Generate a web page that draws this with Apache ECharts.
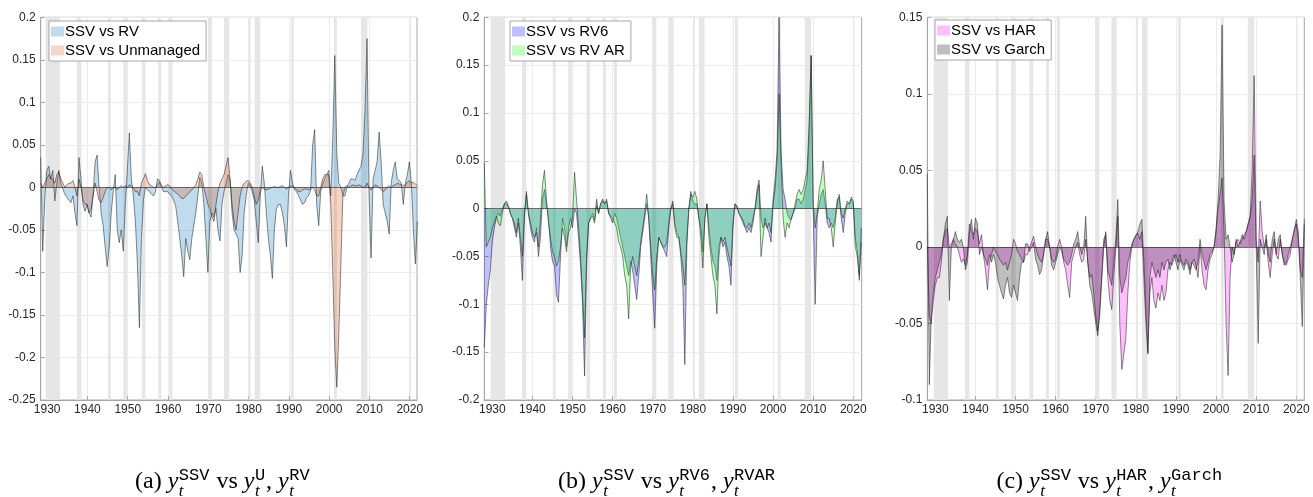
<!doctype html>
<html lang="en">
<head>
<meta charset="utf-8">
<title>SSV comparisons</title>
<script src="https://cdn.jsdelivr.net/npm/echarts@6/dist/echarts.min.js"></script>
<style>
  html, body { margin: 0; padding: 0; background: #fff; }
  #chart { width: 1313px; height: 497px; }
</style>
</head>
<body>
<div id="chart"></div>
<script>
// half-year samples; panel (a) starts a bit later than (b) and (c)
const startA = 1928.4;
const startBC = 1928.0;
const step = 0.5;

// (a) SSV vs RV / Unmanaged, from 1928.4
const ssvRV = [
  0.035, -0.075, -0.015,
  0.02, 0.025, 0.01, 0.02, -0.016, 0.005, 0.02, 0.005, -0.002, -0.008, -0.012, -0.015, -0.018, -0.01, -0.03, -0.045, 0.035, 0.01, -0.02, -0.028,
  -0.02, -0.03, -0.035, -0.01, 0.03, 0.038, 0.0, -0.03, -0.045, -0.07, -0.093, -0.07, -0.03, -0.005, 0.015, -0.05, -0.065, -0.05, -0.075, -0.02,
  0.02, 0.064, 0.01, -0.01, -0.04, -0.09, -0.165, -0.06, -0.015, 0.0, -0.003, -0.005, -0.008, -0.01, -0.005, 0.01, 0.008, 0.0, -0.005, -0.005,
  -0.005, -0.008, -0.01, -0.015, -0.022, -0.04, -0.06, -0.08, -0.105, -0.06, -0.075, -0.085, -0.06, -0.045, -0.03, -0.01, 0.012, 0.005, -0.02, -0.06,
  -0.1, -0.04, -0.03, -0.035, -0.025, -0.05, -0.063, -0.02, -0.005, 0.005, 0.015, 0.01, -0.03, -0.05, -0.055, -0.06, -0.1, -0.08, -0.03, -0.01,
  0.005, 0.003, -0.005, -0.015, -0.04, -0.065, -0.01, 0.025, 0.005, -0.03, -0.06, -0.08, -0.107, -0.05, -0.025, -0.02, -0.02, -0.03, -0.045, -0.07,
  -0.01, 0.02, 0.005, -0.003, -0.005, -0.01, -0.015, -0.02, -0.018, -0.012, -0.01, -0.003, 0.05, 0.068, -0.02, -0.045, -0.005, 0.005, 0.01, 0.015,
  0.02, -0.01, 0.06, 0.155, 0.04, 0.005, 0.0, -0.01, -0.01, 0.0, 0.005, 0.01, 0.01, 0.008, 0.015, 0.02, 0.025, 0.04, 0.09, 0.175,
  -0.01, -0.083, 0.01, 0.02, 0.03, 0.065, 0.03, -0.02, -0.03, -0.04, -0.055, 0.005, 0.02, 0.03, 0.01, 0.008, 0.005, -0.02, 0.005, 0.015,
  0.03, 0.005, -0.05, -0.09, -0.04
];
const ssvUnmanaged = [
  0.005, 0.0, 0.005,
  0.01, 0.015, 0.01, 0.01, 0.005, 0.015, 0.018, 0.01, 0.005, 0.0, 0.003, 0.005, 0.005, 0.008, 0.0, -0.01, 0.01, 0.0, -0.015, -0.02,
  -0.02, -0.03, -0.025, -0.01, 0.005, -0.005, -0.015, -0.018, -0.012, -0.005, 0.0, 0.0, -0.003, 0.0, 0.0, -0.003, 0.0, 0.002, 0.0, 0.002,
  0.0, 0.003, 0.002, 0.0, -0.005, -0.005, -0.01, 0.005, 0.01, 0.016, 0.008, 0.003, 0.002, 0.0, 0.0, 0.003, 0.006, 0.002, 0.0, 0.002,
  0.003, 0.002, -0.002, -0.004, -0.006, -0.008, -0.01, -0.013, -0.013, -0.01, -0.008, -0.005, -0.003, 0.0, 0.003, 0.01, 0.018, 0.015, 0.0, -0.01,
  -0.02, -0.025, -0.035, -0.04, -0.02, -0.005, 0.005, 0.01, 0.015, 0.025, 0.035, 0.01, -0.02, -0.04, -0.05, -0.03, -0.01, 0.0, 0.005, 0.007,
  0.008, 0.005, 0.0, -0.01, -0.02, -0.015, -0.005, 0.0, -0.002, -0.003, -0.002, -0.001, 0.0, 0.001, 0.0, 0.0, 0.001, 0.002, 0.0, -0.002,
  0.0, 0.002, 0.001, 0.0, -0.003, -0.005, -0.005, -0.003, -0.002, -0.002, -0.003, -0.002, 0.0, -0.003, -0.01, -0.01, 0.0, 0.01, 0.015, 0.015,
  0.015, -0.02, -0.1, -0.19, -0.235, -0.17, -0.09, -0.01, 0.0, 0.002, 0.0, 0.002, 0.003, 0.002, 0.002, 0.003, 0.002, 0.0, 0.0, 0.005,
  0.0, -0.003, 0.0, 0.003, 0.002, 0.0, -0.003, -0.005, -0.003, 0.0, 0.002, 0.0, 0.002, 0.003, 0.005, 0.004, 0.003, 0.002, 0.003, 0.006,
  0.008, 0.005, 0.006, 0.004, 0.002
];

// (b) SSV vs RV6 / RV AR, from 1928.0
const ssvRV6 = [
  -0.145, -0.1, -0.08, -0.065,
  -0.035, -0.02, -0.01, -0.005, -0.008, 0.0, 0.005, 0.008, 0.003, -0.005, -0.01, -0.02, -0.03, -0.015, -0.04, -0.075, -0.01, 0.018, -0.005, -0.02,
  -0.03, -0.035, -0.02, -0.05, -0.03, 0.01, 0.02, 0.005, -0.01, -0.04, -0.055, -0.06, -0.09, -0.098, -0.05, -0.01, -0.02, -0.04, -0.02, -0.01,
  -0.02, 0.0, -0.005, -0.03, -0.06, -0.1, -0.175, -0.06, -0.015, -0.01, -0.005, -0.012, 0.01, -0.005, 0.005, 0.01, 0.005, 0.008, -0.005, -0.01,
  -0.015, -0.005, -0.01, -0.02, -0.03, -0.04, -0.05, -0.06, -0.07, -0.055, -0.065, -0.08, -0.095, -0.07, -0.04, -0.025, -0.01, 0.005, -0.01, -0.05,
  -0.09, -0.125, -0.06, -0.03, -0.035, -0.04, -0.045, -0.05, -0.02, 0.0, 0.008, -0.015, -0.025, -0.03, -0.05, -0.08, -0.163, -0.04, 0.0, 0.018,
  0.008, 0.005, 0.005, -0.01, -0.02, -0.045, -0.01, 0.005, -0.02, -0.04, -0.055, -0.06, -0.075, -0.04, -0.03, -0.04, -0.035, -0.05, -0.06, -0.08,
  -0.02, 0.005, 0.002, -0.005, -0.01, -0.015, -0.02, -0.025, -0.02, -0.025, -0.015, 0.0, 0.02, 0.03, -0.01, -0.02, -0.015, -0.02, -0.025, -0.035,
  0.01, 0.03, 0.06, 0.2, 0.06, 0.02, 0.01, -0.005, -0.01, -0.012, -0.005, 0.0, 0.01, 0.01, 0.005, 0.01, 0.02, 0.03, 0.08, 0.16,
  0.0, -0.1, -0.01, 0.005, 0.015, 0.02, 0.005, -0.015, -0.02, -0.015, -0.02, -0.01, 0.01, 0.012, -0.01, -0.025, -0.005, 0.005, 0.005, 0.01,
  0.005, -0.03, -0.045, -0.075, -0.035
];
const ssvRVAR = [
  0.048, -0.04, -0.035, -0.03,
  -0.02, -0.015, -0.008, -0.015, -0.018, -0.005, 0.005, 0.005, 0.002, -0.005, -0.01, -0.015, -0.025, -0.01, -0.03, -0.05, -0.005, 0.015, -0.005, -0.015,
  -0.025, -0.03, -0.025, -0.04, -0.01, 0.025, 0.04, 0.01, -0.015, -0.03, -0.045, -0.05, -0.06, -0.055, -0.04, -0.02, -0.03, -0.045, -0.025, -0.02,
  -0.01, 0.038, 0.01, -0.02, -0.05, -0.09, -0.135, -0.05, -0.015, -0.01, -0.008, -0.015, 0.003, -0.005, 0.005, 0.008, 0.005, 0.01, -0.005, -0.008,
  -0.01, -0.015, -0.02, -0.035, -0.04, -0.05, -0.07, -0.08, -0.115, -0.06, -0.05, -0.06, -0.07, -0.055, -0.035, -0.02, -0.005, 0.015, -0.01, -0.04,
  -0.07, -0.085, -0.05, -0.03, -0.035, -0.04, -0.04, -0.035, -0.015, 0.0, 0.005, -0.02, -0.03, -0.03, -0.045, -0.06, -0.08, -0.03, 0.0, 0.015,
  0.012, 0.018, 0.01, -0.01, -0.03, -0.062, -0.01, 0.005, -0.03, -0.05, -0.07, -0.08, -0.11, -0.05, -0.03, -0.035, -0.03, -0.04, -0.05, -0.06,
  -0.015, 0.005, 0.003, -0.005, -0.008, -0.012, -0.018, -0.02, -0.015, -0.02, -0.01, 0.0, 0.015, 0.025, -0.05, -0.03, -0.01, -0.02, -0.015, -0.025,
  0.005, 0.02, 0.05, 0.12, 0.05, -0.01, -0.03, -0.015, -0.02, -0.01, -0.005, 0.005, 0.015, 0.02, 0.015, 0.02, 0.03, 0.04, 0.09, 0.16,
  0.005, -0.02, -0.005, 0.02, 0.03, 0.05, 0.02, -0.01, -0.01, -0.02, -0.04, -0.015, 0.005, 0.015, -0.005, -0.01, 0.0, 0.008, 0.005, 0.012,
  0.008, -0.04, -0.05, -0.07, -0.02
];

// (c) SSV vs HAR / Garch, from 1928.0
const ssvHAR = [
  0.0, -0.045, -0.05, -0.035,
  -0.025, -0.02, -0.02, -0.01, 0.005, 0.01, 0.012, 0.0, 0.002, 0.005, 0.002, 0.0, -0.005, -0.01, -0.008, -0.012, -0.005, 0.015, 0.01, 0.008,
  0.012, 0.01, 0.002, 0.008, -0.005, -0.015, -0.028, -0.01, -0.005, 0.0, -0.003, -0.005, -0.008, -0.01, -0.012, -0.01, -0.015, -0.01, -0.005, 0.005,
  0.002, -0.003, -0.005, -0.008, -0.01, -0.005, -0.005, 0.0, 0.003, 0.007, 0.0, -0.005, -0.008, -0.01, -0.005, 0.005, 0.005, 0.0, -0.008, -0.01,
  -0.008, 0.0, 0.005, 0.0, -0.01, -0.015, -0.025, -0.033, -0.01, -0.005, 0.0, 0.003, -0.005, -0.01, -0.008, 0.005, -0.01, -0.02, -0.018, -0.03,
  -0.045, -0.055, -0.045, -0.02, 0.0, 0.01, -0.02, -0.035, -0.041, -0.02, 0.0, 0.02, -0.05, -0.08, -0.07, -0.06, -0.03, -0.01, 0.0, 0.005,
  0.008, 0.009, 0.005, 0.01, -0.02, -0.05, -0.07, -0.03, -0.02, -0.035, -0.04, -0.03, -0.035, -0.025, -0.035, -0.03, -0.015, -0.01, -0.012, -0.008,
  -0.005, -0.01, -0.005, -0.01, -0.012, -0.008, -0.01, -0.015, -0.01, -0.008, -0.012, -0.02, 0.0, -0.015, -0.025, -0.028, -0.015, -0.008, -0.005, 0.0,
  0.01, 0.025, 0.035, 0.045, 0.01, -0.05, -0.084, -0.02, 0.0, -0.005, 0.003, 0.005, 0.002, 0.005, 0.008, 0.01, 0.015, 0.02, 0.05, 0.112,
  0.005, -0.01, 0.03, 0.01, 0.0, 0.005, -0.01, -0.02, -0.005, 0.005, -0.005, -0.008, 0.005, -0.005, -0.01, -0.012, -0.008, -0.005, 0.005, 0.012,
  0.015, 0.005, -0.015, -0.02, 0.018
];
const ssvGarch = [
  0.048, -0.09, -0.045, -0.03,
  -0.02, -0.015, -0.01, -0.005, 0.005, 0.015, 0.02, -0.035, 0.0, 0.005, 0.01, 0.005, 0.003, 0.005, 0.0, -0.015, -0.01, 0.01, 0.018, 0.005,
  0.019, 0.015, -0.005, 0.0, -0.005, -0.008, -0.012, -0.005, -0.01, -0.005, -0.01, -0.02, -0.025, -0.03, -0.034, -0.025, -0.02, -0.03, -0.033, -0.025,
  -0.03, -0.035, -0.02, -0.01, -0.01, 0.002, 0.002, -0.003, 0.0, 0.003, -0.008, -0.012, -0.018, -0.015, -0.005, 0.005, 0.01, 0.0, -0.012, -0.015,
  -0.01, -0.005, 0.0, -0.003, -0.008, -0.01, -0.012, -0.01, -0.005, 0.002, 0.005, 0.01, 0.0, -0.005, 0.0, 0.02, -0.01, -0.025, -0.03, -0.04,
  -0.05, -0.058, -0.04, -0.02, 0.005, 0.008, -0.015, -0.02, -0.025, -0.01, 0.005, 0.031, -0.02, -0.03, -0.025, -0.02, -0.01, -0.005, 0.002, 0.005,
  0.007, 0.01, 0.015, 0.018, -0.01, -0.04, -0.069, -0.02, -0.01, -0.015, -0.02, -0.015, -0.02, -0.01, -0.015, -0.01, -0.008, -0.015, -0.01, -0.005,
  -0.01, -0.015, -0.008, -0.012, -0.015, -0.01, -0.012, -0.018, -0.01, -0.012, -0.015, -0.01, 0.005, -0.005, -0.01, -0.015, -0.01, -0.005, -0.003, 0.0,
  0.012, 0.03, 0.06, 0.145, 0.03, 0.005, 0.008, 0.0, -0.01, -0.005, 0.005, 0.0, 0.003, 0.008, 0.005, 0.01, 0.015, 0.02, 0.03, 0.06,
  0.0, -0.063, 0.005, 0.0, -0.005, 0.008, -0.005, -0.01, 0.005, 0.01, -0.005, 0.005, 0.008, -0.005, -0.012, -0.01, -0.005, 0.0, 0.005, 0.01,
  0.018, 0.01, -0.02, -0.052, 0.015
];

const decadeTicks = [1930, 1940, 1950, 1960, 1970, 1980, 1990, 2000, 2010, 2020];
// NBER recessions, shaded
const recessions = [
  [1929.6, 1933.2], [1937.4, 1938.5], [1945.1, 1945.8], [1948.9, 1949.8], [1953.5, 1954.4],
  [1957.6, 1958.3], [1960.3, 1961.1], [1969.9, 1970.9], [1973.9, 1975.2], [1980.0, 1980.5],
  [1981.5, 1982.9], [1990.5, 1991.2], [2001.2, 2001.9], [2007.9, 2009.5], [2020.1, 2020.3]
];

const TEXT = '#262626';
const AXIS = '#a6a6a6';
const GRID = '#ececec';
const EDGE = 'rgba(30,30,30,0.75)';
const SANS = '"Liberation Sans", Arial, sans-serif';

const panels = [
  {
    left: 40.7, width: 376.3, xMin: 1928.4, xMax: 2021.8, yMin: -0.25, yMax: 0.2, start: startA,
    legendPos: { left: 49, top: 21 },
    series: [
      { name: 'SSV vs RV', values: ssvRV, rgb: '0,114,189', swatch: '#bfdcef' },
      { name: 'SSV vs Unmanaged', values: ssvUnmanaged, rgb: '217,83,25', swatch: '#f6d4c6' }
    ],
    caption: ['(a) ', { sup: 'SSV' }, ' vs ', { sup: 'U' }, ', ', { sup: 'RV' }]
  },
  {
    left: 484.3, width: 377.4, xMin: 1928.0, xMax: 2022.1, yMin: -0.2, yMax: 0.2, start: startBC,
    legendPos: { left: 510, top: 21 },
    series: [
      { name: 'SSV vs RV6', values: ssvRV6, rgb: '0,0,255', swatch: '#bfbfff' },
      { name: 'SSV vs RV AR', values: ssvRVAR, rgb: '0,255,0', swatch: '#bfffbf' }
    ],
    caption: ['(b) ', { sup: 'SSV' }, ' vs ', { sup: 'RV6' }, ', ', { sup: 'RVAR' }]
  },
  {
    left: 927.3, width: 377, xMin: 1928.0, xMax: 2022.0, yMin: -0.1, yMax: 0.15, start: startBC,
    legendPos: { left: 935, top: 20 },
    series: [
      { name: 'SSV vs HAR', values: ssvHAR, rgb: '255,0,255', swatch: '#ffbfff' },
      { name: 'SSV vs Garch', values: ssvGarch, rgb: '0,0,0', swatch: '#bfbfbf' }
    ],
    caption: ['(c) ', { sup: 'SSV' }, ' vs ', { sup: 'HAR' }, ', ', { sup: 'Garch' }]
  }
];

function stamp(start, values) {
  return values.map((v, i) => [+(start + i * step).toFixed(2), v]);
}

// caption text: y_t with typewriter superscripts
const measureCtx = document.createElement('canvas').getContext('2d');
function textW(s, font) { measureCtx.font = font; return measureCtx.measureText(s).width; }
const CAP = {
  roman: '24px "Liberation Serif", serif',
  italic: 'italic 24px "Liberation Serif", serif',
  script: 'italic 17px "Liberation Serif", serif',
  mono: '17px "Liberation Mono", monospace'
};
function captionElements(tokens, cx, baseY) {
  const parts = [];
  let x = 0;
  tokens.forEach(tok => {
    if (typeof tok === 'string') {
      parts.push({ text: tok, font: CAP.roman, x: x, y: baseY });
      x += textW(tok, CAP.roman);
    } else {
      parts.push({ text: 'y', font: CAP.italic, x: x, y: baseY });
      x += textW('y', CAP.italic) + 0.5;
      parts.push({ text: 't', font: CAP.script, x: x, y: baseY + 6 });
      parts.push({ text: tok.sup, font: CAP.mono, x: x, y: baseY - 10 });
      x += Math.max(textW('t', CAP.script), textW(tok.sup, CAP.mono)) + 1;
    }
  });
  const x0 = cx - x / 2;
  return parts.map(p => ({
    type: 'text', silent: true,
    x: x0 + p.x, y: p.y,
    style: { text: p.text, font: p.font, fill: '#000', textVerticalAlign: 'bottom' }
  }));
}

const grids = [], xAxes = [], yAxes = [], series = [], legends = [], graphics = [];
panels.forEach((p, k) => {
  grids.push({ left: p.left, top: 17.3, width: p.width, height: 382.7, show: true,
    borderColor: AXIS, borderWidth: 1, backgroundColor: 'transparent', outerBoundsMode: 'none' });
  xAxes.push({
    type: 'value', gridIndex: k, min: p.xMin, max: p.xMax,
    axisLine: { show: true, onZero: false, lineStyle: { color: AXIS } },
    axisTick: { show: true, inside: true, length: 4, customValues: decadeTicks, lineStyle: { color: AXIS } },
    axisLabel: { customValues: decadeTicks, color: TEXT, fontSize: 12, fontFamily: SANS, margin: 4,
      formatter: v => String(v) },
    splitLine: { show: true, lineStyle: { color: GRID } }
  });
  yAxes.push({
    type: 'value', gridIndex: k, min: p.yMin, max: p.yMax, interval: 0.05,
    axisLine: { show: true, onZero: false, lineStyle: { color: AXIS } },
    axisTick: { show: true, inside: true, length: 4, lineStyle: { color: AXIS } },
    axisLabel: { color: TEXT, fontSize: 12, fontFamily: SANS, margin: 5 },
    splitLine: { show: true, lineStyle: { color: GRID } }
  });
  // recession shading
  series.push({
    type: 'line', xAxisIndex: k, yAxisIndex: k, data: [[p.xMin, 0]], symbol: 'none', silent: true, z: 1,
    lineStyle: { width: 0 },
    markArea: { silent: true, itemStyle: { color: '#e6e6e6' },
      data: recessions.map(r => [{ xAxis: r[0] }, { xAxis: r[1] }]) }
  });
  p.series.forEach((s, j) => {
    const item = {
      type: 'line', name: s.name, xAxisIndex: k, yAxisIndex: k, z: 3 + j,
      data: stamp(p.start, s.values), symbol: 'none', silent: true,
      lineStyle: { color: EDGE, width: 0.7 },
      itemStyle: { color: 'rgb(' + s.rgb + ')' },
      areaStyle: { color: 'rgb(' + s.rgb + ')', opacity: 0.25 }
    };
    if (j === 1) {
      item.markLine = { silent: true, symbol: ['none', 'none'], label: { show: false },
        lineStyle: { color: EDGE, width: 0.8, type: 'solid' }, data: [{ yAxis: 0 }] };
    }
    series.push(item);
  });
  legends.push({
    orient: 'vertical', left: p.legendPos.left, top: p.legendPos.top,
    backgroundColor: '#fff', borderColor: AXIS, borderWidth: 1,
    padding: [2, 6, 2, 2], itemGap: 2, itemWidth: 13, itemHeight: 10,
    selectedMode: false,
    textStyle: { fontSize: 15, lineHeight: 17, color: '#000', fontFamily: SANS, padding: [0, 0, 0, -4] },
    data: p.series.map(s => ({ name: s.name, icon: 'rect', itemStyle: { color: s.swatch, borderWidth: 0 } }))
  });
  graphics.push(...captionElements(p.caption, p.left + p.width / 2 - 6, 494));
});

const chart = echarts.init(document.getElementById('chart'));
chart.setOption({
  animation: false,
  backgroundColor: '#fff',
  grid: grids,
  xAxis: xAxes,
  yAxis: yAxes,
  legend: legends,
  series: series,
  graphic: { elements: graphics }
});
</script>
</body>
</html>
